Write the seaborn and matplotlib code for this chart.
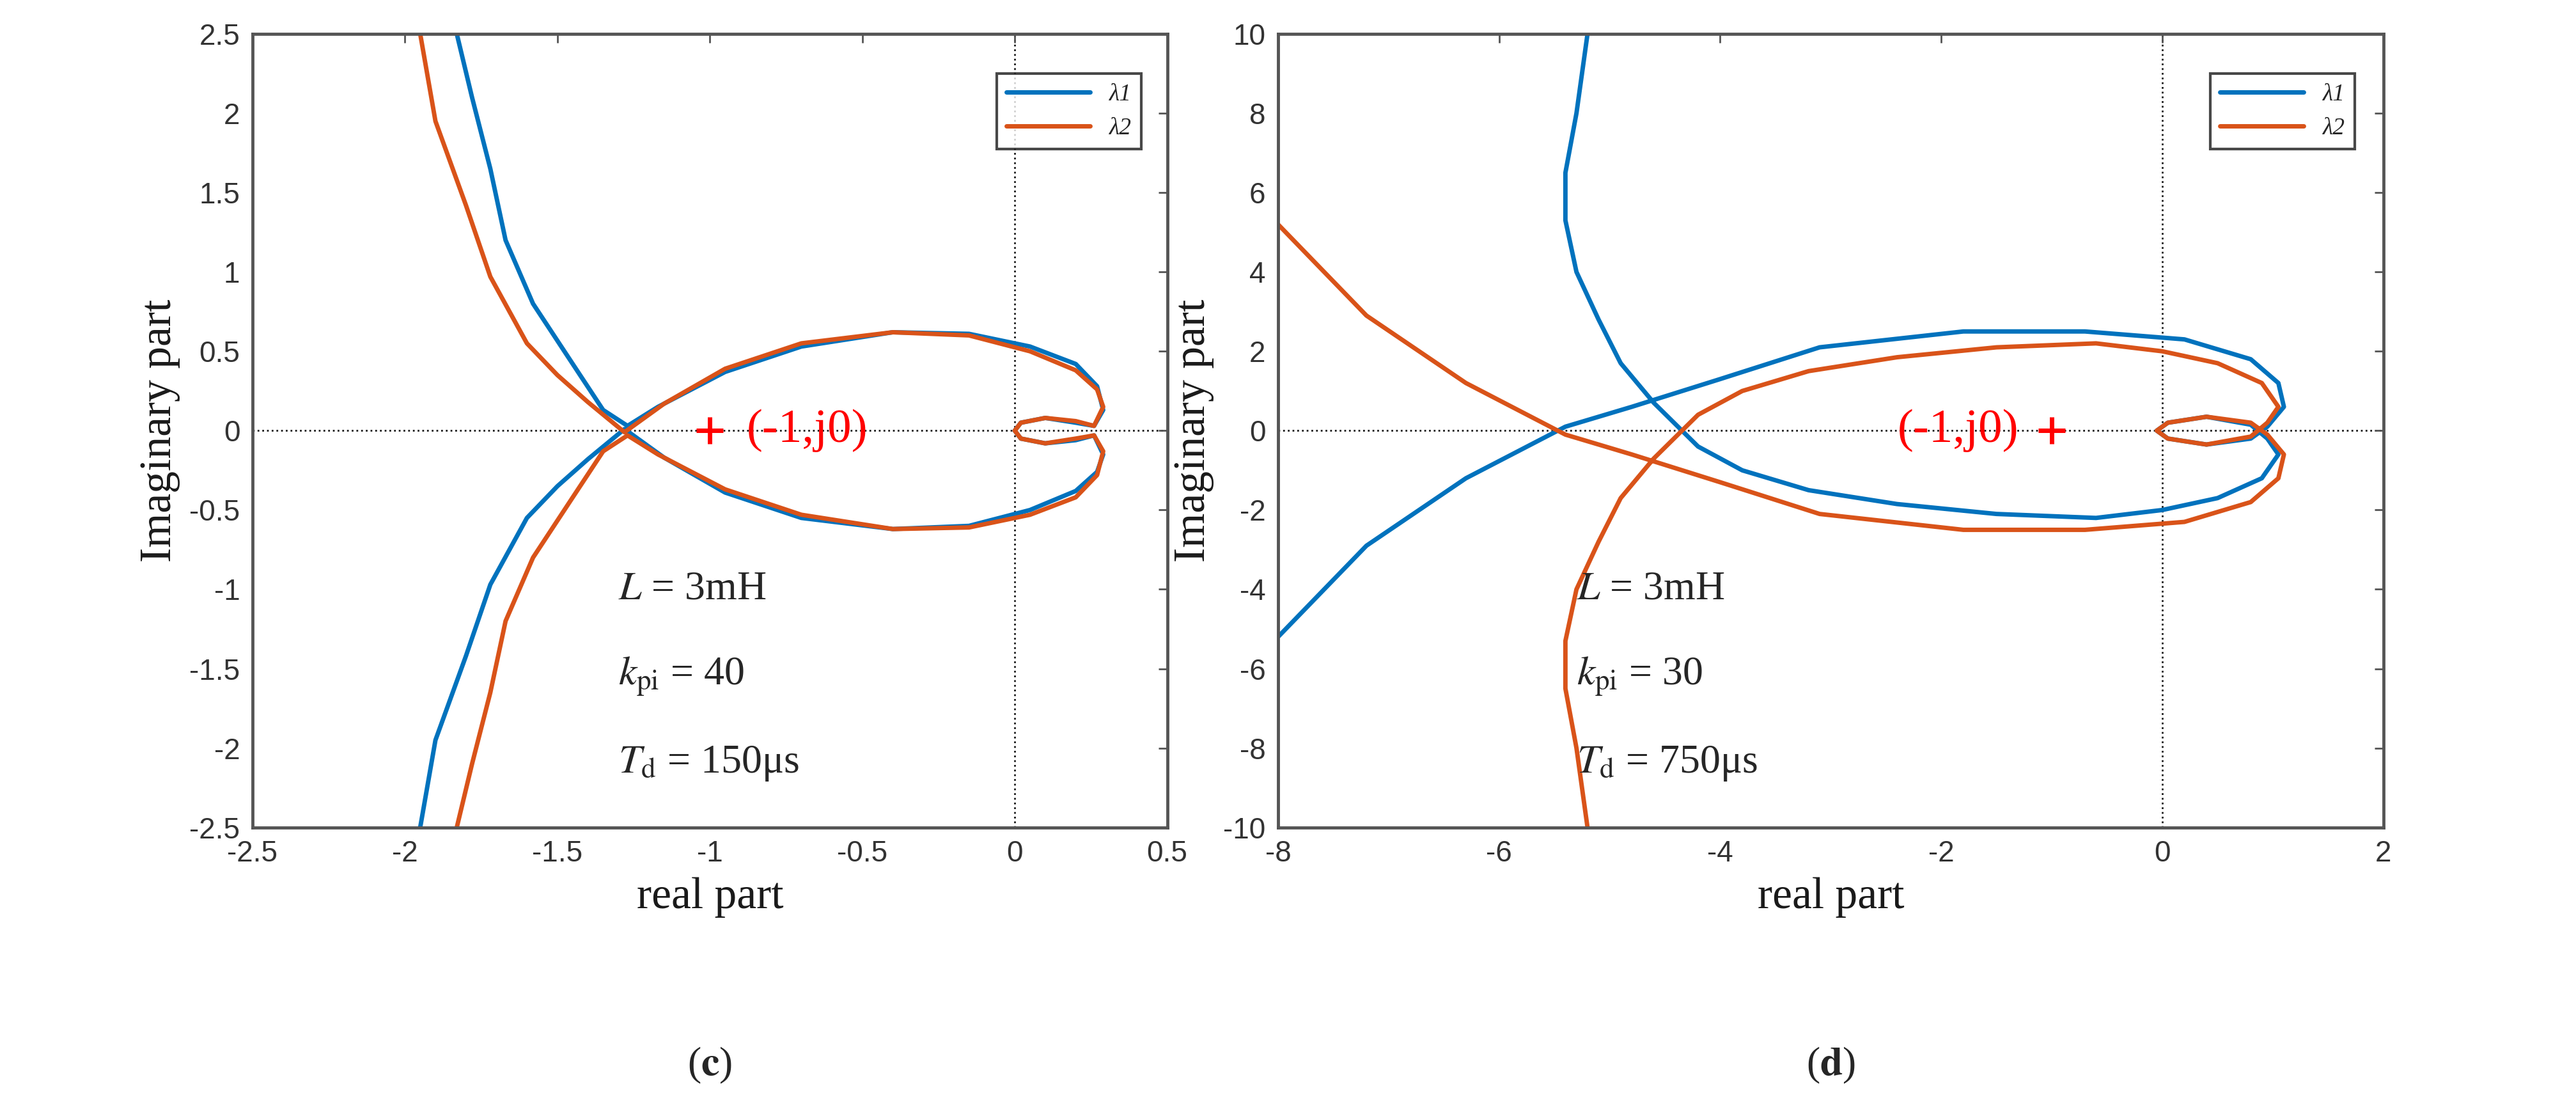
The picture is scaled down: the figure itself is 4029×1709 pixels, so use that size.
import matplotlib
matplotlib.use("Agg")
import matplotlib.pyplot as plt
import seaborn as sns
import numpy as np
import pandas as pd

sns.set_theme(style="white")
plt.rcParams['font.family'] = ['Liberation Sans', 'DejaVu Sans']
plt.rcParams['mathtext.fontset'] = 'stix'

# Panel (c): blue path (lambda1); lambda2 is its mirror in the real axis
c_x = [-1.83, -1.78, -1.72, -1.67, -1.58, -1.46, -1.35, -1.27, -1.17, -0.95, -0.70, -0.40, -0.15, 0.05, 0.20, 0.27, 0.29, 0.26,
       0.20, 0.10, 0.02, 0.00, 0.02, 0.10, 0.20, 0.26,
       0.29, 0.27, 0.20, 0.05, -0.15, -0.40, -0.70, -0.95, -1.15, -1.28, -1.40, -1.50, -1.60, -1.72, -1.80, -1.90, -1.95]
c_y = [2.50, 2.10, 1.65, 1.20, 0.80, 0.45, 0.13, 0.03, 0.15, 0.37, 0.53, 0.62, 0.61, 0.53, 0.42, 0.28, 0.13, 0.03,
       0.05, 0.08, 0.05, 0.00, -0.05, -0.08, -0.06, -0.03,
       -0.15, -0.26, -0.38, -0.50, -0.60, -0.62, -0.55, -0.39, -0.17, 0.01, -0.18, -0.35, -0.55, -0.97, -1.42, -1.95, -2.50]
# Panel (d)
d_x = [-5.20, -5.30, -5.40, -5.40, -5.30, -5.10, -4.90, -4.60, -4.20, -3.80, -3.20, -2.40, -1.50, -0.60, 0.00, 0.50, 0.90, 1.05, 0.95,
       0.80, 0.40, 0.05, -0.05, 0.05, 0.40, 0.80, 0.95,
       1.10, 1.05, 0.80, 0.20, -0.70, -1.80, -3.10, -4.00, -4.80, -5.40, -6.30, -7.20, -8.00]
d_y = [10.0, 8.0, 6.5, 5.3, 4.0, 2.8, 1.7, 0.7, -0.4, -1.0, -1.5, -1.85, -2.1, -2.2, -2.0, -1.7, -1.2, -0.6, -0.2,
       0.15, 0.35, 0.2, 0.0, -0.2, -0.35, -0.2, 0.1,
       0.6, 1.2, 1.8, 2.3, 2.5, 2.5, 2.1, 1.3, 0.6, 0.1, -1.2, -2.9, -5.2]

xticks_c = [-2.5, -2, -1.5, -1, -0.5, 0, 0.5]
yticks_c = [-2.5, -2, -1.5, -1, -0.5, 0, 0.5, 1, 1.5, 2, 2.5]
xticks_d = [-8, -6, -4, -2, 0, 2]
yticks_d = [-10, -8, -6, -4, -2, 0, 2, 4, 6, 8, 10]

blue = '#0072BD'
orange = '#D95319'
grey = '#555555'
serif = ['Liberation Serif', 'DejaVu Serif']

fig = plt.figure(figsize=(40.3, 17.09), dpi=100)
ax1 = fig.add_axes([0.098, 0.243, 0.355, 0.726])
ax2 = fig.add_axes([0.496, 0.243, 0.429, 0.726])

panels = [
    (ax1, c_x, c_y, (-2.5, 0.5), (-2.5, 2.5), xticks_c, yticks_c,
     'c', ['3mH', '40', '150μs'], 0.40, (-0.88, 0.0, 'left')),
    (ax2, d_x, d_y, (-8, 2), (-10, 10), xticks_d, yticks_d,
     'd', ['3mH', '30', '750μs'], 0.27, (-1.3, 0.0, 'right')),
]

for ax, px, py, xl, yl, xt, yt, cap, vals, tx, lab in panels:
    df = pd.DataFrame({'x': px + px, 'y': py + [-v for v in py],
                       's': ['λ1'] * len(px) + ['λ2'] * len(px)})
    sns.lineplot(data=df, x='x', y='y', hue='s', sort=False, estimator=None,
                 palette=[blue, orange], lw=5, ax=ax)
    ax.axhline(0, color='k', ls=':', lw=2, zorder=0)
    ax.axvline(0, color='k', ls=':', lw=2, zorder=0)
    ax.set_xlim(*xl); ax.set_ylim(*yl)
    ax.set_xticks(xt); ax.set_yticks(yt)
    ax.set_xticklabels(['%g' % v for v in xt])
    ax.set_yticklabels(['%g' % v for v in yt])
    ax.tick_params(labelsize=33, colors=grey, direction='in', length=10, width=2, top=True, right=True,
                   labelcolor='#333333', pad=14)
    for s in ax.spines.values():
        s.set_color(grey); s.set_linewidth(3.5)
    ax.set_xlabel('real part', family=serif, fontsize=50, color='k', labelpad=10)
    ax.set_ylabel('Imaginary part', family=serif, fontsize=50, color='k', labelpad=10)
    leg = ax.legend(loc='upper right', fontsize=27, frameon=True, fancybox=False,
                    edgecolor='k', handlelength=3.5, bbox_to_anchor=(0.985, 0.965))
    leg.get_frame().set_linewidth(3)
    for t in leg.get_texts():
        t.set_fontstyle('italic'); t.set_family(serif)
    ax.plot([-1], [0], marker='+', color='red', ms=30, mew=5, ls='none')
    ax.text(lab[0], lab[1], '(-1,j0)', color='red', fontsize=54, family=serif,
            ha=lab[2], va='center')
    for fy, s in zip([0.30, 0.19, 0.08], [r'$L$', r'$k_{\rm pi}$', r'$T_{\rm d}$']):
        v = vals[[0.30, 0.19, 0.08].index(fy)]
        ax.text(tx, fy, s + ' = ' + v, fontsize=46, family=serif, transform=ax.transAxes,
                va='center')
    ax.text(0.5, -0.30, '(' + r'$\mathbf{' + cap + '}$' + ')', transform=ax.transAxes,
            ha='center', va='center', fontsize=46, family=serif)

fig.savefig('out.png', dpi=100)
